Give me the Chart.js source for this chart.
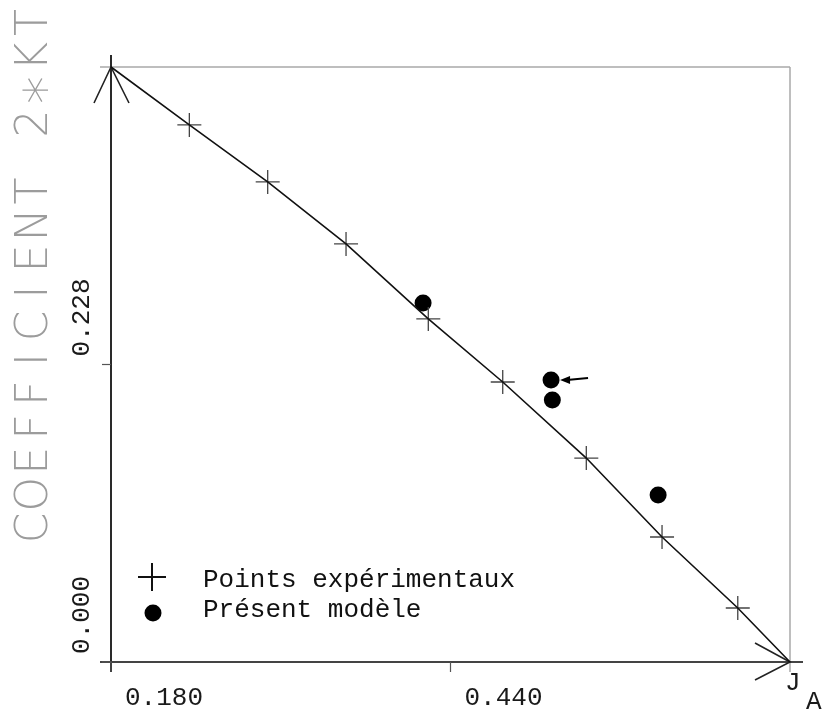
<!DOCTYPE html>
<html><head><meta charset="utf-8">
<script src="https://cdn.jsdelivr.net/npm/chart.js@4/dist/chart.umd.min.js"></script>
<style>html,body{margin:0;padding:0;background:#fff}#wrap{width:826px;height:716px}</style>
</head><body><div id="wrap"><canvas id="c" width="826" height="716"></canvas></div>
<script>
// ---- data ----
const xRange = [0.180, 0.700];
const yRange = [0.000, 0.456];
const xTicks = [0.180, 0.440];
const yTicks = [0.000, 0.228];
const xTickLabels = ['0.180', '0.440'];
const yTickLabels = ['0.000', '0.228'];
const curveX = [0.180, 0.240, 0.300, 0.360, 0.423, 0.480, 0.544, 0.602, 0.660, 0.700];
const curveY = [0.456, 0.4116, 0.3679, 0.3204, 0.2629, 0.2146, 0.1563, 0.0958, 0.0414, 0.000];
const expX = [0.240, 0.300, 0.360, 0.423, 0.480, 0.544, 0.602, 0.660];
const expY = [0.4116, 0.3679, 0.3204, 0.2629, 0.2146, 0.1563, 0.0958, 0.0414];
const modelX = [0.419, 0.517, 0.518, 0.599];
const modelY = [0.2751, 0.2161, 0.2008, 0.1280];
const arrowTarget = 1; // index of model point marked by an arrow
const legendLabels = ['Points expérimentaux', 'Présent modèle'];
const yTitle = 'COEFFICIENT 2*KT';
const xTitle = 'J';
const xTitleSub = 'A';

const pts = (xs, ys) => xs.map((x, i) => ({x, y: ys[i]}));
const MONO = '"Liberation Mono", "DejaVu Sans Mono", monospace';

const drawPlugin = {
  id: 'plotter',
  beforeDatasetsDraw(chart) {
    const ctx = chart.ctx, sx = chart.scales.x, sy = chart.scales.y;
    const L = sx.getPixelForValue(xRange[0]), R = sx.getPixelForValue(xRange[1]);
    const T = sy.getPixelForValue(yRange[1]), B = sy.getPixelForValue(yRange[0]);
    ctx.save();
    ctx.lineCap = 'butt';
    // light frame (top and right)
    ctx.strokeStyle = '#a8a8a8'; ctx.lineWidth = 1.5;
    ctx.beginPath(); ctx.moveTo(L - 11, T); ctx.lineTo(R, T); ctx.stroke();
    ctx.beginPath(); ctx.moveTo(R, T); ctx.lineTo(R, B + 10); ctx.stroke();
    // axes
    ctx.strokeStyle = '#2a2a2a'; ctx.lineWidth = 2;
    ctx.beginPath(); ctx.moveTo(L, T - 12); ctx.lineTo(L, B + 10); ctx.stroke();
    ctx.strokeStyle = '#444'; ctx.lineWidth = 2;
    ctx.beginPath(); ctx.moveTo(L - 11, B); ctx.lineTo(R + 13, B); ctx.stroke();
    // ticks
    ctx.lineWidth = 1.2; ctx.strokeStyle = '#555';
    xTicks.forEach(v => { const p = sx.getPixelForValue(v); ctx.beginPath(); ctx.moveTo(p, B); ctx.lineTo(p, B + 10); ctx.stroke(); });
    yTicks.forEach(v => { const p = sy.getPixelForValue(v); ctx.beginPath(); ctx.moveTo(L - 9, p); ctx.lineTo(L, p); ctx.stroke(); });
    // arrowheads
    ctx.strokeStyle = '#222'; ctx.lineWidth = 1.6;
    ctx.beginPath(); ctx.moveTo(L - 17, T + 36); ctx.lineTo(L, T); ctx.lineTo(L + 18, T + 36); ctx.stroke();
    ctx.beginPath(); ctx.moveTo(R - 35, B - 19); ctx.lineTo(R, B); ctx.lineTo(R - 35, B + 18); ctx.stroke();
    // tick labels
    ctx.fillStyle = '#1a1a1a'; ctx.font = '26px ' + MONO;
    ctx.textAlign = 'left'; ctx.textBaseline = 'alphabetic';
    xTicks.forEach((v, i) => { ctx.fillText(xTickLabels[i], sx.getPixelForValue(v) + 14, B + 43); });
    yTicks.forEach((v, i) => {
      ctx.save(); ctx.translate(L - 22, sy.getPixelForValue(v) - 8); ctx.rotate(-Math.PI / 2);
      ctx.fillText(yTickLabels[i], 0, 0); ctx.restore();
    });
    // x title J_A
    ctx.fillText(xTitle, R - 5, B + 28);
    ctx.fillText(xTitleSub, R + 16, B + 47);
    // y title
    ctx.save();
    ctx.fillStyle = '#9c9c9c';
    ctx.textAlign = 'center';
    ctx.translate(47, 528);
    ctx.rotate(-Math.PI / 2);
    for (let i = 0; i < yTitle.length; i++) {
      if (yTitle[i] === '*') {
        ctx.font = '200 56px "DejaVu Sans", sans-serif';
        ctx.fillText(yTitle[i], i * 33.7, 17);
      } else {
        ctx.font = '200 44px "DejaVu Sans", sans-serif';
        ctx.fillText(yTitle[i], i * 33.7, 0);
      }
    }
    ctx.restore();
    ctx.restore();
  },
  afterDatasetsDraw(chart) {
    const ctx = chart.ctx, sx = chart.scales.x, sy = chart.scales.y;
    ctx.save();
    // arrow pointing to a model point
    const px = sx.getPixelForValue(modelX[arrowTarget]), py = sy.getPixelForValue(modelY[arrowTarget]);
    ctx.strokeStyle = '#000'; ctx.fillStyle = '#000'; ctx.lineWidth = 2;
    ctx.beginPath(); ctx.moveTo(px + 37, py - 2); ctx.lineTo(px + 16, py); ctx.stroke();
    ctx.beginPath(); ctx.moveTo(px + 9, py); ctx.lineTo(px + 19, py - 4); ctx.lineTo(px + 19, py + 4); ctx.closePath(); ctx.fill();
    // legend
    const lx = 152, ly1 = 577, ly2 = 613;
    ctx.strokeStyle = '#111'; ctx.lineWidth = 2;
    ctx.beginPath(); ctx.moveTo(lx - 14, ly1); ctx.lineTo(lx + 14, ly1); ctx.moveTo(lx, ly1 - 14); ctx.lineTo(lx, ly1 + 14); ctx.stroke();
    ctx.beginPath(); ctx.arc(lx + 1, ly2, 8.5, 0, Math.PI * 2); ctx.fill();
    ctx.fillStyle = '#111'; ctx.font = '26px ' + MONO; ctx.textAlign = 'left'; ctx.textBaseline = 'alphabetic';
    ctx.fillText(legendLabels[0], 203, 587);
    ctx.fillText(legendLabels[1], 203, 617);
    ctx.restore();
  }
};

new Chart(document.getElementById('c'), {
  type: 'scatter',
  data: {
    datasets: [
      { label: 'courbe', data: pts(curveX, curveY), showLine: true, borderColor: '#111', borderWidth: 1.6,
        pointRadius: 0, tension: 0, fill: false, clip: false },
      { label: legendLabels[0], data: pts(expX, expY), pointStyle: 'cross', pointRadius: 12,
        borderColor: '#444', borderWidth: 1.3, backgroundColor: '#444', clip: false },
      { label: legendLabels[1], data: pts(modelX, modelY), pointStyle: 'circle', pointRadius: 8.5,
        borderColor: '#000', borderWidth: 0, backgroundColor: '#000', clip: false }
    ]
  },
  options: {
    responsive: false, animation: false, devicePixelRatio: 1,
    layout: { padding: { left: 111, right: 36, top: 67, bottom: 54 } },
    scales: {
      x: { type: 'linear', min: xRange[0], max: xRange[1], display: false },
      y: { type: 'linear', min: yRange[0], max: yRange[1], display: false }
    },
    plugins: { legend: { display: false }, tooltip: { enabled: false } }
  },
  plugins: [drawPlugin]
});
</script></body></html>
